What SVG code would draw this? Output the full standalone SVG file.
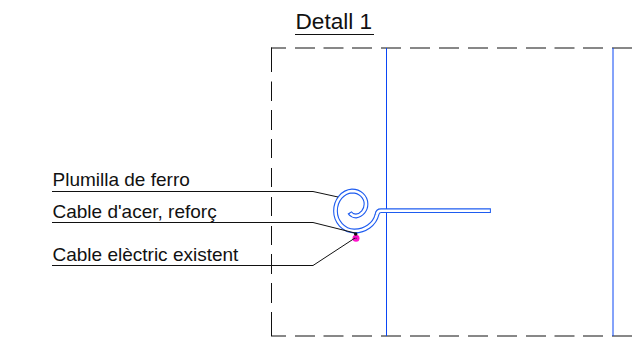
<svg xmlns="http://www.w3.org/2000/svg" width="636" height="338" viewBox="0 0 636 338">
<style>
text{font-family:"Liberation Sans",Arial,sans-serif;fill:#111}
.lbl{font-size:19px}
.k{fill:none;stroke:#111;stroke-width:1}
.b{fill:none;stroke:#0a46f5;stroke-width:1}
</style>
<rect width="636" height="338" fill="#fff"/>
<g id="title"><text x="295.5" y="29" font-size="22.6">Detall 1</text><path class="k" d="M295 34.5H374"/></g>
<g id="frame">
<path class="k" d="M271.5 47.5V72M271.5 81.5V101M271.5 110V130M271.5 139V158M271.5 168V187M271.5 197V216M271.5 226V245M271.5 254V274M271.5 283V303M271.5 312V336"/>
<path class="k" d="M271 48H286M295 48H315M323.500 48H343.500M352 48H372M381 48H401M410 48H430M439 48H459M468 48H488M497 48H517M526 48H546M554.500 48H574.500M583 48H603M612 48H632"/>
<path class="k" d="M271 336H286M295 336H315M323.500 336H343.500M352 336H372M381 336H401M410 336H430M439 336H459M468 336H488M497 336H517M526 336H546M554.500 336H574.500M583 336H603M612 336H632"/>
</g>
<g id="columns"><path class="b" d="M386.500 48V336M613 48V336"/></g>
<g id="plumilla">
<path fill="none" stroke="#1e5cf0" stroke-width="4.800" d="M490.900 210.700H381Q377.500 210.700 377 214.500A23 21 0 0 1 354 231A19.500 20 0 0 1 335.500 211A17.500 20 0 0 1 352 191A14 13 0 0 1 366 204A11.500 12 0 0 1 356 216A8 8 0 0 1 349.500 212.500"/>
<path fill="none" stroke="#fff" stroke-width="2.600" d="M489.900 210.700H381Q377.500 210.700 377 214.500A23 21 0 0 1 354 231A19.500 20 0 0 1 335.500 211A17.500 20 0 0 1 352 191A14 13 0 0 1 366 204A11.500 12 0 0 1 356 216A8 8 0 0 1 350.300 213.300"/>
</g>
<g id="cables">
<circle cx="356" cy="238.200" r="3.500" fill="#ff11cc"/>
<circle cx="355.700" cy="234" r="1.800" fill="#111"/>
<circle cx="356" cy="238.200" r="0.800" fill="#661166"/>
</g>
<g id="connectors">
<path class="k" d="M52 191.500H313L338 197"/>
<path class="k" d="M52 222.500H313L355 233"/>
<path class="k" d="M52 265.500H313L355 238"/>
</g>
<g id="label-plumilla"><text class="lbl" x="52.500" y="186">Plumilla de ferro</text></g>
<g id="label-acer"><text class="lbl" x="52.500" y="218">Cable d'acer, reforç</text></g>
<g id="label-electric"><text class="lbl" x="52.500" y="261">Cable elèctric existent</text></g>
</svg>
